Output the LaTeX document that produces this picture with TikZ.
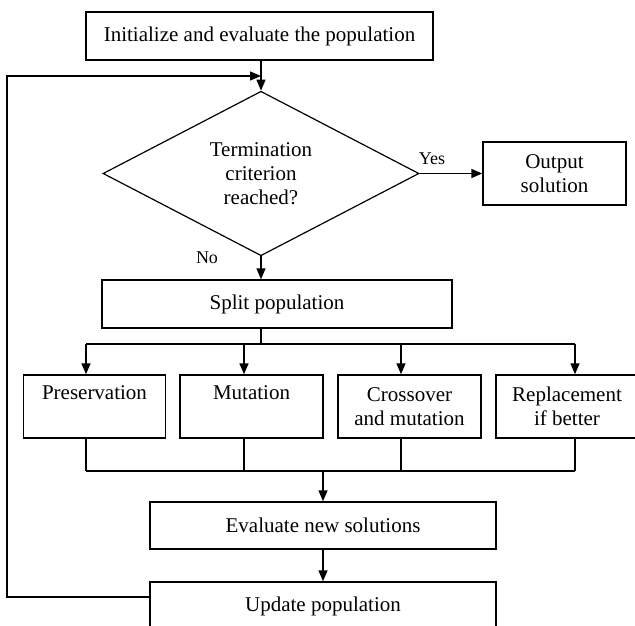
\documentclass[tikz,border=0pt]{standalone}
\usepackage{fontspec}
\setmainfont{Liberation Serif}
\usetikzlibrary{shapes.geometric,arrows.meta,calc}
\begin{document}
\begin{tikzpicture}[x=1pt,y=-1pt,
  every node/.style={font=\fontsize{21}{24}\selectfont, inner sep=0pt},
  box/.style={draw, line width=1.4pt, rectangle, align=center},
  lbl/.style={font=\fontsize{18}{20}\selectfont},
  conn/.style={line width=1.4pt},
  arr/.style={conn, -{Triangle[length=11pt,width=9pt]}}]
\clip (0,0) rectangle (635,626);
\node[box, minimum width=347, minimum height=48] (init) at (259.5,36) {Initialize and evaluate the population};
\node[draw, line width=1.2pt, diamond, minimum width=316, minimum height=157, align=center] (dia) at (261,173.5) {Termination\\criterion\\reached?};
\node[box, minimum width=143, minimum height=63] (out) at (554.5,173.5) {Output\\solution};
\node[box, minimum width=350, minimum height=48] (split) at (277,304) {Split population};
\node[box, minimum width=142, minimum height=63] (pres) at (94.5,406.5) {Preservation\\\phantom{g}};
\node[box, minimum width=143, minimum height=63] (mut) at (251.5,406.5) {Mutation\\\phantom{g}};
\node[box, minimum width=143, minimum height=63] (cross) at (409.5,406.5) {Crossover\\and mutation};
\node[box, minimum width=142, minimum height=63] (repl) at (567,406.5) {Replacement\\if better};
\node[box, minimum width=346, minimum height=47] (eval) at (323,525.5) {Evaluate new solutions};
\node[box, minimum width=346, minimum height=48] (upd) at (323,606) {Update population};
\node[lbl] (yes) at (432,159) {Yes};
\node[lbl] (no) at (207,258) {No};
% coordinates
\coordinate (b1) at (86,344);
\coordinate (b2) at (244,344);
\coordinate (b3) at (401,344);
\coordinate (b4) at (575,344);
\coordinate (c1) at (86,471);
\coordinate (c4) at (575,471);
\coordinate (fb1) at (7,597);
\coordinate (fb2) at (7,76);
% connectors
\draw[arr] (dia.north |- init.south) -- (dia.north);
\draw[arr] (dia.east) -- (out.west);
\draw[arr] (dia.south) -- (dia.south |- split.north);
\draw[conn] (dia.south |- split.south) -- (dia.south |- b1);
\draw[conn] (b1) -- (b4);
\draw[arr] (b1) -- (b1 |- pres.north);
\draw[arr] (b2) -- (b2 |- mut.north);
\draw[arr] (b3) -- (b3 |- cross.north);
\draw[arr] (b4) -- (b4 |- repl.north);
\draw[conn] (b1 |- pres.south) -- (c1);
\draw[conn] (b2 |- mut.south) -- (b2 |- c1);
\draw[conn] (b3 |- cross.south) -- (b3 |- c1);
\draw[conn] (b4 |- repl.south) -- (c4);
\draw[conn] (c1) -- (c4);
\draw[arr] (eval.north |- c1) -- (eval.north);
\draw[arr] (eval.south) -- (upd.north);
\draw[arr] (upd.west |- fb1) -- (fb1) -- (fb2) -- (fb2 -| dia.north);
\end{tikzpicture}
\end{document}
